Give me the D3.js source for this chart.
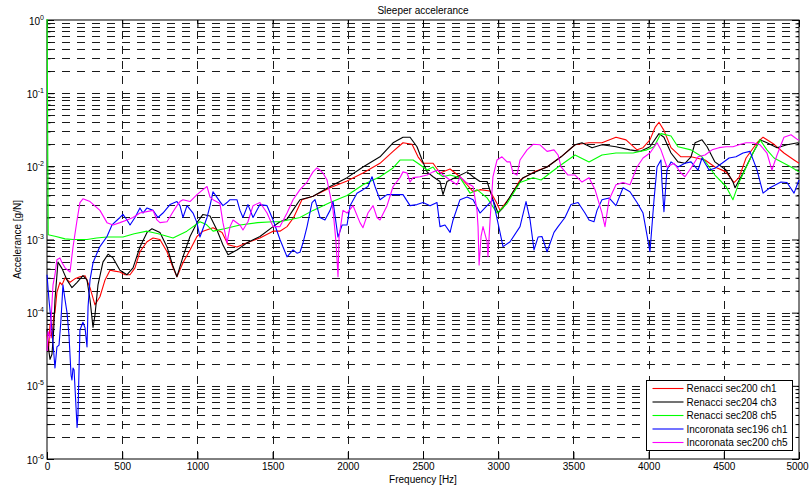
<!DOCTYPE html>
<html>
<head>
<meta charset="utf-8">
<script src="https://cdn.jsdelivr.net/npm/d3@7"></script>
<style>
  body { margin: 0; background: #fff; }
  svg { font-family: Arial, "Liberation Sans", Helvetica, sans-serif; }
</style>
</head>
<body>
<div id="wrapper"></div>
<script>
// tick values
const freqTicks = [0, 500, 1000, 1500, 2000, 2500, 3000, 3500, 4000, 4500, 5000]
const decadeExponents = [-6, -5, -4, -3, -2, -1, 0]

const seriesLabels = [
  "Renacci sec200 ch1",
  "Renacci sec204 ch3",
  "Renacci sec208 ch5",
  "Incoronata sec196 ch1",
  "Incoronata sec200 ch5",
]

// [frequency Hz, accelerance g/N]
const renacciSec200Ch1 = [
  [0,5e-5],[10,3e-5],[20,7e-5],[33,4.5e-5],[45,9e-5],[53,1.0e-4],[66,1.9e-4],[86,2.6e-4],[100,2.4e-4],[120,3.0e-4],
  [153,2.6e-4],[185,2.9e-4],[219,3.1e-4],[253,3.2e-4],[286,2.2e-4],[319,1.28e-4],[352,1.65e-4],[386,2.8e-4],[419,3.8e-4],
  [450,3.7e-4],[485,3.6e-4],[519,3.3e-4],[552,3.3e-4],[585,4.1e-4],[618,6.8e-4],[665,9.3e-4],[705,1.05e-3],[751,1.0e-3],
  [798,6.8e-4],[838,4.1e-4],[864,3.1e-4],[904,4.8e-4],[951,7.2e-4],[997,1.1e-3],[1037,1.3e-3],[1104,1.45e-3],[1164,1.25e-3],
  [1204,8.5e-4],[1263,7.9e-4],[1330,9.0e-4],[1416,1.05e-3],[1503,1.3e-3],[1549,1.3e-3],[1596,1.5e-3],[1640,2.0e-3],
  [1695,3.5e-3],[1769,3.9e-3],[1882,5.1e-3],[1995,6.3e-3],[2101,8.1e-3],[2214,1.1e-2],[2301,1.6e-2],[2367,2.1e-2],
  [2427,2.0e-2],[2467,1.35e-2],[2500,1.1e-2],[2567,1.1e-2],[2613,8.1e-3],[2680,9.2e-3],[2746,7.2e-3],[2793,5.6e-3],
  [2833,4.5e-3],[2879,4.8e-3],[2946,4.6e-3],[2992,3.1e-3],[3012,2.5e-3],[3079,3.8e-3],[3145,6.5e-3],[3238,8.4e-3],
  [3325,9.8e-3],[3418,1.35e-2],[3511,1.97e-2],[3604,2.1e-2],[3690,2.1e-2],[3783,2.5e-2],[3850,2.3e-2],[3923,1.68e-2],
  [3963,1.8e-2],[4009,2.3e-2],[4043,3.4e-2],[4069,4.0e-2],[4102,3.1e-2],[4149,1.8e-2],[4215,1.35e-2],[4282,1.35e-2],
  [4375,1.22e-2],[4441,9.8e-3],[4515,8.4e-3],[4568,6.0e-3],[4601,7.0e-3],[4648,1.3e-2],[4721,2.1e-2],[4761,2.5e-2],
  [4834,2.0e-2],[4900,1.52e-2],[4967,1.22e-2],[5000,1.1e-2],
]

const renacciSec204Ch3 = [
  [0,6e-5],[7,3.6e-5],[20,2.3e-5],[33,2.7e-5],[45,6e-5],[53,1.5e-4],[73,4.9e-4],[100,4.0e-4],[133,2.8e-4],[166,2.2e-4],
  [200,2.6e-4],[239,3.2e-4],[266,2.8e-4],[286,1.5e-4],[306,6.3e-5],[319,9.3e-5],[339,2.4e-4],[372,4.9e-4],[406,6.3e-4],
  [439,5.6e-4],[485,3.8e-4],[532,3.3e-4],[572,4.1e-4],[618,7.9e-4],[665,1.25e-3],[698,1.4e-3],[751,1.25e-3],[798,7.9e-4],
  [838,4.3e-4],[864,3.1e-4],[904,5.8e-4],[951,1.1e-3],[997,1.7e-3],[1037,2.2e-3],[1084,2.1e-3],[1130,1.35e-3],[1170,8.4e-4],
  [1204,6.2e-4],[1263,7.2e-4],[1330,9.0e-4],[1416,1.1e-3],[1503,1.5e-3],[1549,1.75e-3],[1596,1.9e-3],[1640,2.6e-3],
  [1682,3.5e-3],[1769,3.9e-3],[1882,5.3e-3],[1995,7.0e-3],[2101,9.8e-3],[2214,1.35e-2],[2301,2.1e-2],[2367,2.5e-2],
  [2414,2.5e-2],[2460,1.85e-2],[2494,1.22e-2],[2527,8.4e-3],[2567,7.2e-3],[2613,6.2e-3],[2633,4.1e-3],[2660,6.2e-3],
  [2726,7.2e-3],[2793,8.4e-3],[2833,7.2e-3],[2879,6.2e-3],[2926,6.2e-3],[2965,3.5e-3],[2999,2.3e-3],[3032,2.7e-3],
  [3099,4.5e-3],[3165,7.0e-3],[3232,8.1e-3],[3325,9.8e-3],[3418,1.35e-2],[3511,1.97e-2],[3557,2.1e-2],[3624,1.8e-2],
  [3690,1.97e-2],[3783,1.85e-2],[3876,1.68e-2],[3943,1.6e-2],[4009,1.85e-2],[4069,2.8e-2],[4102,2.5e-2],[4149,1.52e-2],
  [4195,1.15e-2],[4242,1.1e-2],[4282,1.35e-2],[4309,2.1e-2],[4355,2.3e-2],[4389,1.85e-2],[4441,1.15e-2],[4515,8.9e-3],
  [4561,6.1e-3],[4575,5.1e-3],[4628,8.1e-3],[4694,1.52e-2],[4741,2.3e-2],[4787,2.1e-2],[4854,1.8e-2],[4920,1.97e-2],
  [4993,2.1e-2],[5000,2.0e-2],
]

const renacciSec208Ch5 = [
  [0,2],[8,1.16e-3],[60,1.1e-3],[120,1.02e-3],[175,1.0e-3],[266,1.0e-3],[330,1.05e-3],[399,1.08e-3],[505,1.08e-3],
  [580,1.2e-3],[665,1.3e-3],[740,1.2e-3],[838,1.05e-3],[930,1.3e-3],[1017,1.75e-3],[1060,1.6e-3],[1104,1.3e-3],
  [1180,1.4e-3],[1283,1.58e-3],[1400,1.7e-3],[1503,1.75e-3],[1549,1.75e-3],[1682,2.0e-3],[1769,2.5e-3],[1882,3.2e-3],
  [1995,4.0e-3],[2101,5.6e-3],[2214,7.2e-3],[2301,9.5e-3],[2347,1.22e-2],[2434,1.22e-2],[2480,1.05e-2],[2527,8.9e-3],
  [2567,9.8e-3],[2593,8.2e-3],[2633,7.2e-3],[2680,7.6e-3],[2746,7.0e-3],[2813,4.3e-3],[2859,4.8e-3],[2926,3.7e-3],
  [2992,2.3e-3],[3059,3.1e-3],[3145,6.0e-3],[3232,7.0e-3],[3285,6.5e-3],[3398,9.8e-3],[3511,1.43e-2],[3604,1.15e-2],
  [3690,1.43e-2],[3783,1.52e-2],[3896,1.52e-2],[3989,1.68e-2],[4036,1.85e-2],[4082,2.8e-2],[4149,2.6e-2],[4195,1.85e-2],
  [4282,1.68e-2],[4355,1.35e-2],[4441,7.6e-3],[4515,5.3e-3],[4561,3.5e-3],[4601,6.0e-3],[4694,1.52e-2],[4741,2.3e-2],
  [4787,1.68e-2],[4834,1.3e-2],[4947,9.8e-3],[5000,8.4e-3],
]

const incoronataSec196Ch1 = [
  [0,3.3e-4],[13,1.5e-4],[33,5.8e-5],[53,1.75e-5],[66,3.4e-5],[80,3.6e-5],[93,8e-5],[106,2.4e-4],[120,1.5e-4],[133,1.0e-4],
  [146,5e-5],[160,1.4e-5],[166,1.2e-5],[173,1.75e-5],[180,1.65e-5],[200,2.7e-6],[206,4e-6],[219,5.8e-5],[239,7.4e-5],
  [253,6.2e-5],[266,3.4e-5],[273,1.2e-4],[286,2.8e-4],[306,4.8e-4],[332,6.5e-4],[352,8e-4],[399,1.1e-3],[432,1.58e-3],
  [485,2.0e-3],[505,2.2e-3],[532,1.85e-3],[552,1.58e-3],[585,2.0e-3],[618,2.7e-3],[638,2.3e-3],[665,2.7e-3],[705,2.5e-3],
  [738,2.0e-3],[771,2.3e-3],[818,3.0e-3],[864,3.3e-3],[884,2.9e-3],[904,2.0e-3],[931,2.9e-3],[971,2.3e-3],[997,1.7e-3],
  [1017,1.08e-3],[1064,2.0e-3],[1084,2.9e-3],[1104,4.5e-3],[1150,3.3e-3],[1170,2.9e-3],[1197,3.2e-3],[1217,3.5e-3],
  [1263,3.5e-3],[1283,2.5e-3],[1303,2.0e-3],[1336,3.0e-3],[1370,2.0e-3],[1416,3.0e-3],[1463,2.9e-3],[1503,1.85e-3],
  [1549,1.0e-3],[1596,5.8e-4],[1636,7.2e-4],[1662,6.5e-4],[1682,6.7e-4],[1702,9e-4],[1729,1.5e-3],[1762,3.2e-3],
  [1782,3.5e-3],[1815,2.0e-3],[1848,1.85e-3],[1882,2.5e-3],[1902,3.3e-3],[1935,1.08e-3],[1962,1.58e-3],[1995,1.58e-3],
  [2015,2.9e-3],[2061,4.3e-3],[2101,4.8e-3],[2134,5.3e-3],[2161,7.2e-3],[2181,5.3e-3],[2214,3.5e-3],[2261,4.1e-3],
  [2301,4.1e-3],[2367,4.1e-3],[2414,2.9e-3],[2460,3.0e-3],[2500,3.2e-3],[2547,2.9e-3],[2593,3.2e-3],[2613,1.5e-3],
  [2646,1.58e-3],[2680,1.25e-3],[2700,1.85e-3],[2746,3.5e-3],[2793,3.8e-3],[2833,3.5e-3],[2879,2.3e-3],[2926,2.9e-3],
  [2965,3.5e-3],[3012,1.25e-3],[3032,8e-4],[3079,9.3e-4],[3145,1.5e-3],[3185,3.3e-3],[3212,1.85e-3],[3238,7.2e-4],
  [3265,1.08e-3],[3291,1.1e-3],[3325,6.8e-4],[3371,1.25e-3],[3398,1.5e-3],[3444,2.0e-3],[3484,3.0e-3],[3531,3.2e-3],
  [3577,2.3e-3],[3604,1.85e-3],[3637,1.75e-3],[3657,2.5e-3],[3690,3.5e-3],[3737,3.7e-3],[3783,2.9e-3],[3830,5.1e-3],
  [3876,4.5e-3],[3923,3.2e-3],[3963,2.3e-3],[4003,8e-4],[4009,6.8e-4],[4036,3.5e-3],[4056,9.8e-3],[4082,1.22e-2],
  [4089,6e-3],[4102,2.4e-3],[4122,8.9e-3],[4149,1.15e-2],[4195,9.8e-3],[4242,1.1e-2],[4282,1.15e-2],[4329,8.9e-3],
  [4355,1.3e-2],[4402,8.9e-3],[4441,9.4e-3],[4488,1.1e-2],[4535,1.3e-2],[4581,1.35e-2],[4628,1.52e-2],[4674,1.6e-2],
  [4721,8.9e-3],[4761,4.3e-3],[4807,5.1e-3],[4880,6.1e-3],[4920,6.0e-3],[4967,4.3e-3],[5000,6.5e-3],
]

const incoronataSec200Ch5 = [
  [0,3e-5],[7,5.5e-5],[20,4.5e-5],[40,2.4e-4],[53,3.3e-4],[66,5.3e-4],[86,5.6e-4],[100,4.8e-4],[120,4.1e-4],[153,3.6e-4],
  [173,7.9e-4],[200,1.85e-3],[219,3.2e-3],[239,3.6e-3],[286,3.3e-3],[352,2.5e-3],[399,1.7e-3],[439,1.58e-3],[485,1.7e-3],
  [532,1.85e-3],[572,2.0e-3],[618,2.3e-3],[705,2.5e-3],[731,1.85e-3],[751,1.7e-3],[798,1.75e-3],[838,2.4e-3],[864,2.9e-3],
  [884,3.3e-3],[904,3.5e-3],[951,3.3e-3],[997,4.1e-3],[1037,4.8e-3],[1064,5.3e-3],[1084,3.8e-3],[1104,3.5e-3],[1150,3.1e-3],
  [1170,1.7e-3],[1197,9e-4],[1217,1.5e-3],[1237,1.85e-3],[1283,1.58e-3],[1303,1.35e-3],[1336,1.75e-3],[1370,2.9e-3],
  [1416,3.2e-3],[1463,2.3e-3],[1503,1.5e-3],[1549,1.5e-3],[1596,2.3e-3],[1636,3.5e-3],[1682,4.8e-3],[1729,6.1e-3],
  [1769,8.4e-3],[1795,9.5e-3],[1815,8.9e-3],[1835,8.1e-3],[1862,6.5e-3],[1882,4.1e-3],[1902,2.5e-3],[1922,9e-4],
  [1935,3.1e-4],[1942,1.1e-3],[1968,2.5e-3],[1995,2.3e-3],[2035,2.9e-3],[2081,1.7e-3],[2101,1.45e-3],[2134,2.3e-3],
  [2168,2.9e-3],[2194,2.0e-3],[2214,1.85e-3],[2261,2.9e-3],[2301,5.3e-3],[2347,7.0e-3],[2367,8.4e-3],[2394,8.1e-3],
  [2414,6.1e-3],[2434,7.0e-3],[2480,7.2e-3],[2527,7.6e-3],[2567,8.4e-3],[2600,8.9e-3],[2633,7.6e-3],[2680,6.5e-3],
  [2726,5.6e-3],[2746,7.2e-3],[2793,5.9e-3],[2833,5.3e-3],[2859,2.5e-3],[2866,1.5e-3],[2873,4.5e-4],[2886,1.1e-3],
  [2899,1.5e-3],[2926,9.3e-4],[2932,5.8e-4],[2946,1.85e-3],[2965,7.2e-3],[2992,1.22e-2],[3025,1.35e-2],[3059,1.15e-2],
  [3079,1.15e-2],[3099,8.1e-3],[3125,7.6e-3],[3145,1.22e-2],[3192,1.68e-2],[3232,2.0e-2],[3278,1.97e-2],[3325,1.6e-2],
  [3371,1.68e-2],[3398,1.43e-2],[3418,9.8e-3],[3464,7.6e-3],[3511,7.6e-3],[3557,6.1e-3],[3604,7.0e-3],[3644,4.8e-3],
  [3690,2.3e-3],[3710,1.5e-3],[3737,3.5e-3],[3783,5.6e-3],[3830,6.0e-3],[3876,5.6e-3],[3923,9.8e-3],[3963,1.3e-2],
  [4009,1.52e-2],[4056,2.1e-2],[4082,1.68e-2],[4122,9.8e-3],[4169,1.1e-2],[4215,8.1e-3],[4242,7.2e-3],[4282,9.5e-3],
  [4329,1.35e-2],[4375,1.43e-2],[4422,1.68e-2],[4468,1.8e-2],[4515,1.85e-2],[4561,1.85e-2],[4601,1.97e-2],[4648,2.1e-2],
  [4694,2.1e-2],[4741,1.97e-2],[4787,1.52e-2],[4820,8.9e-3],[4854,1.43e-2],[4900,2.5e-2],[4947,2.7e-2],[4993,2.3e-2],
  [5000,2.3e-2],
]

const allSeries = [renacciSec200Ch1, renacciSec204Ch3, renacciSec208Ch5, incoronataSec196Ch1, incoronataSec200Ch5]
const lineColors = ["#ff0000", "#000000", "#00ff00", "#0000ff", "#ff00ff"]

function drawChart() {
  const xAccessor = d => d[0]
  const yAccessor = d => d[1]

  let dimensions = {
    width: 809,
    height: 489,
    margin: { top: 20, right: 10, bottom: 30, left: 47 },
  }
  dimensions.boundedWidth = dimensions.width - dimensions.margin.left - dimensions.margin.right
  dimensions.boundedHeight = dimensions.height - dimensions.margin.top - dimensions.margin.bottom

  const wrapper = d3.select("#wrapper")
    .append("svg")
      .attr("width", dimensions.width)
      .attr("height", dimensions.height)

  const bounds = wrapper.append("g")
      .attr("transform", `translate(${dimensions.margin.left},${dimensions.margin.top})`)

  const xScale = d3.scaleLinear()
    .domain([0, 5000])
    .range([0, dimensions.boundedWidth])

  const yScale = d3.scaleLog()
    .domain([1e-6, 1])
    .range([dimensions.boundedHeight, 0])

  const decades = decadeExponents.map(e => +("1e" + e))
  const minors = []
  decadeExponents.slice(0, -1).forEach(e => {
    for (let k = 2; k <= 9; k++) minors.push(+(k + "e" + e))
  })

  // grid (dashed, MATLAB style)
  const hGrid = decades.slice(1, -1).concat(minors)
  bounds.append("g").selectAll("line")
    .data(hGrid)
    .join("line")
      .attr("x1", 0)
      .attr("x2", dimensions.boundedWidth)
      .attr("y1", d => Math.round(yScale(d)) + 0.5)
      .attr("y2", d => Math.round(yScale(d)) + 0.5)
      .attr("stroke", "#1a1a1a")
      .attr("stroke-width", 1)
      .attr("stroke-dasharray", "8,7")
      .attr("shape-rendering", "crispEdges")

  bounds.append("g").selectAll("line")
    .data(freqTicks.slice(1, -1))
    .join("line")
      .attr("x1", d => Math.round(xScale(d)) + 0.5)
      .attr("x2", d => Math.round(xScale(d)) + 0.5)
      .attr("y1", dimensions.boundedHeight)
      .attr("y2", 0)
      .attr("stroke", "#1a1a1a")
      .attr("stroke-width", 1)
      .attr("stroke-dasharray", "8,7")
      .attr("shape-rendering", "crispEdges")

  // axes box and inward ticks
  const axisG = bounds.append("g")
  axisG.append("rect")
      .attr("width", dimensions.boundedWidth)
      .attr("height", dimensions.boundedHeight)
      .attr("fill", "none")
      .attr("stroke", "#000")

  const xAxis = d3.axisBottom(xScale).tickValues(freqTicks).tickFormat(d3.format("d"))
    .tickSize(-7).tickSizeOuter(0).tickPadding(4)
  const xAxisTop = d3.axisTop(xScale).tickValues(freqTicks).tickSize(-7).tickSizeOuter(0).tickFormat("")
  const yAxis = d3.axisLeft(yScale).tickValues(decades).tickSize(-7).tickSizeOuter(0).tickFormat("")
  const yAxisRight = d3.axisRight(yScale).tickValues(decades).tickSize(-7).tickSizeOuter(0).tickFormat("")
  const yMinor = d3.axisLeft(yScale).tickValues(minors).tickSize(-3.5).tickSizeOuter(0).tickFormat("")
  const yMinorRight = d3.axisRight(yScale).tickValues(minors).tickSize(-3.5).tickSizeOuter(0).tickFormat("")

  const styleAxis = g => {
    g.select(".domain").remove()
    g.selectAll(".tick line").attr("stroke", "#000")
    g.selectAll(".tick text").attr("fill", "#000").attr("font-size", 10)
    g.attr("font-family", null)
  }

  const xAxisG = axisG.append("g")
      .attr("transform", `translate(0,${dimensions.boundedHeight})`)
      .call(xAxis)
      .call(styleAxis)
  // keep the last label inside the window
  xAxisG.selectAll(".tick text").filter(d => d === 5000).attr("dx", -2)

  axisG.append("g").call(xAxisTop).call(styleAxis)
  const yAxisG = axisG.append("g").call(yAxis).call(styleAxis)
  axisG.append("g").attr("transform", `translate(${dimensions.boundedWidth},0)`).call(yAxisRight).call(styleAxis)
  axisG.append("g").call(yMinor).call(styleAxis)
  axisG.append("g").attr("transform", `translate(${dimensions.boundedWidth},0)`).call(yMinorRight).call(styleAxis)

  // 10^n labels
  yAxisG.selectAll(".tick").each(function(d) {
    const t = d3.select(this).append("text")
        .attr("x", -3)
        .attr("y", 4)
        .attr("text-anchor", "end")
        .attr("fill", "#000")
        .attr("font-size", 10)
    t.append("tspan").text("10")
    t.append("tspan")
        .attr("dy", -5)
        .attr("font-size", 7)
        .text(String(Math.round(Math.log10(d))))
  })

  // data lines
  wrapper.append("defs").append("clipPath")
      .attr("id", "plot-clip")
    .append("rect")
      .attr("x", -1)
      .attr("y", -1)
      .attr("width", dimensions.boundedWidth + 2)
      .attr("height", dimensions.boundedHeight + 2)

  const lineGenerator = d3.line()
    .x(d => xScale(xAccessor(d)))
    .y(d => yScale(yAccessor(d)))

  bounds.append("g")
      .attr("clip-path", "url(#plot-clip)")
    .selectAll("path")
    .data(allSeries)
    .join("path")
      .attr("d", lineGenerator)
      .attr("fill", "none")
      .attr("stroke", (d, i) => lineColors[i])
      .attr("stroke-width", 1.1)
      .attr("stroke-linejoin", "round")

  // labels
  wrapper.append("text")
      .attr("x", dimensions.margin.left + dimensions.boundedWidth / 2)
      .attr("y", 14)
      .attr("text-anchor", "middle")
      .attr("font-size", 10)
      .text("Sleeper accelerance")

  wrapper.append("text")
      .attr("x", dimensions.margin.left + dimensions.boundedWidth / 2)
      .attr("y", 483)
      .attr("text-anchor", "middle")
      .attr("font-size", 10)
      .text("Frequency [Hz]")

  wrapper.append("text")
      .attr("transform", `translate(21,${dimensions.margin.top + dimensions.boundedHeight / 2}) rotate(-90)`)
      .attr("text-anchor", "middle")
      .attr("font-size", 10)
      .text("Accelerance [g/N]")

  // legend
  const legend = wrapper.append("g").attr("transform", "translate(646.5,380.5)")
  legend.append("rect")
      .attr("width", 146)
      .attr("height", 70)
      .attr("fill", "#fff")
      .attr("stroke", "#000")
  const rows = legend.selectAll(".row")
    .data(seriesLabels)
    .join("g")
      .attr("transform", (d, i) => `translate(0,${8 + i * 13.5})`)
  rows.append("line")
      .attr("x1", 6)
      .attr("x2", 37)
      .attr("stroke", (d, i) => lineColors[i])
      .attr("stroke-width", 1.1)
  rows.append("text")
      .attr("x", 40)
      .attr("y", 3.5)
      .attr("font-size", 10)
      .text(d => d)
}

drawChart()
</script>
</body>
</html>
